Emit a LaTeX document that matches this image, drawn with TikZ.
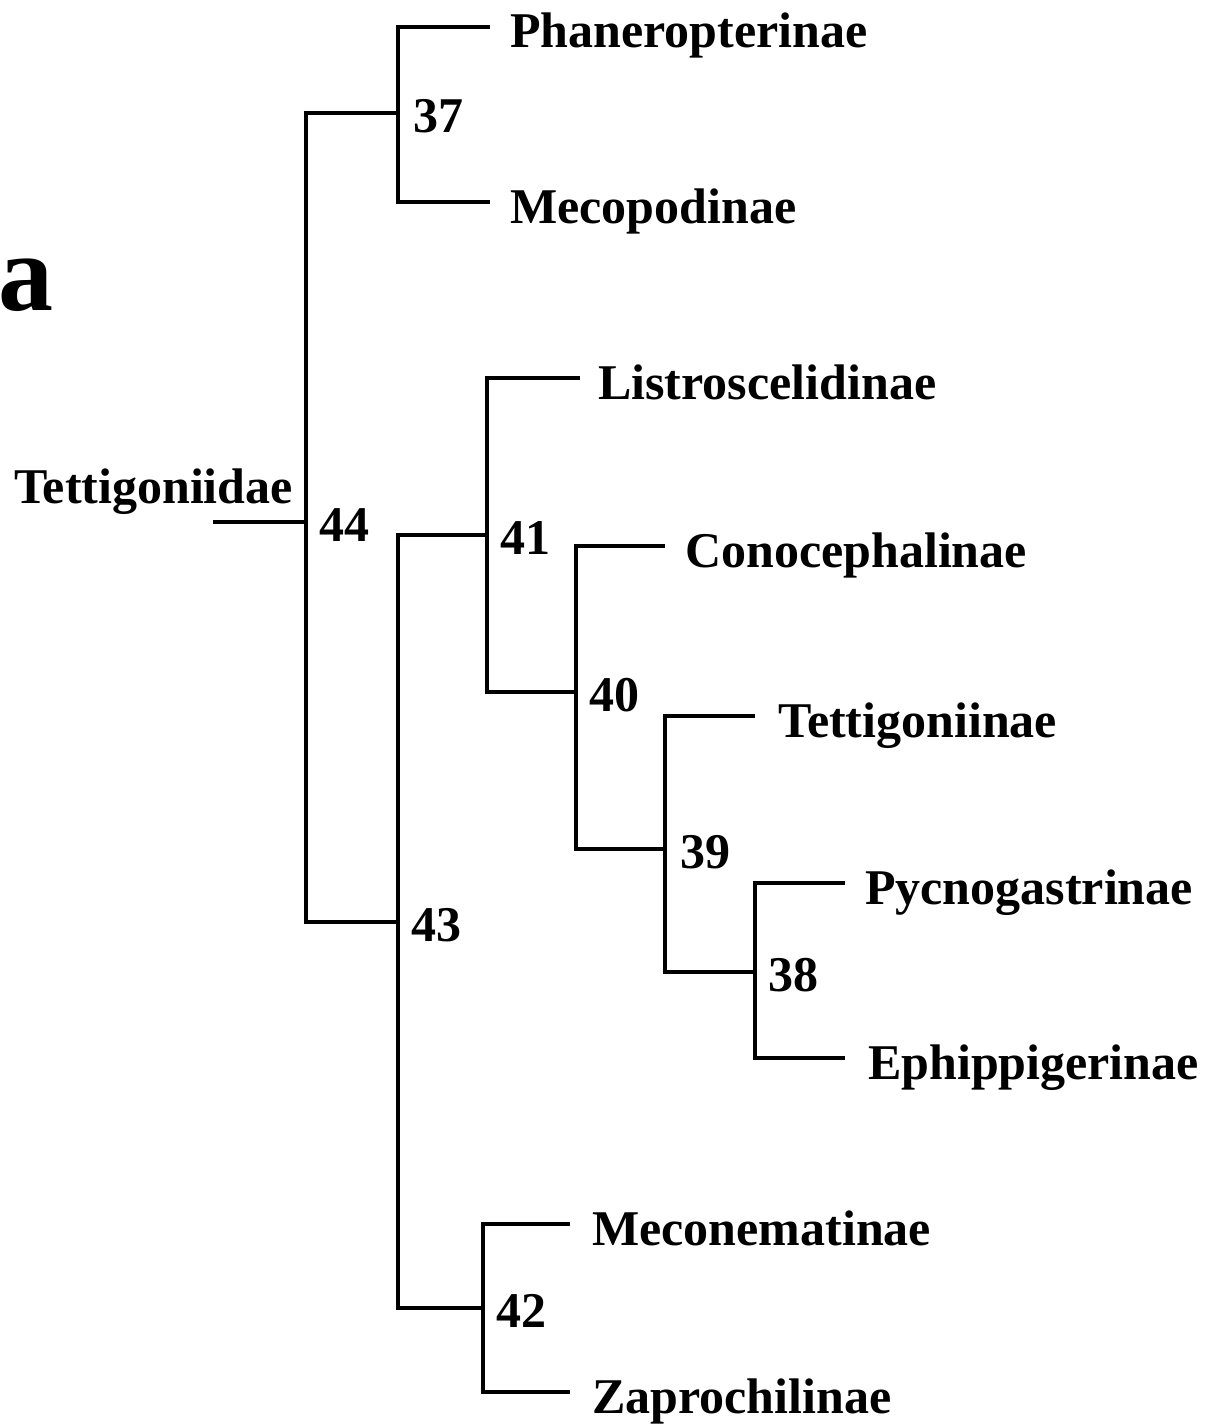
\documentclass[tikz,border=0pt]{standalone}
\usepackage{fontspec}
\setmainfont{Liberation Serif}
\begin{document}
\begin{tikzpicture}[x=1pt,y=-1pt,
  branch/.style={line width=3.3pt,line join=miter,line cap=butt},
  leaf/.style={anchor=base west,inner sep=0pt,font=\fontsize{50}{60}\selectfont\bfseries,xshift=20pt,yshift=-21pt},
  num/.style={anchor=base west,inner sep=0pt,font=\fontsize{50}{60}\selectfont\bfseries,xshift=13pt,yshift=-19pt}]
\useasboundingbox (0,0) rectangle (1211,1426);
% panel letter
\node[anchor=base west,inner sep=0pt,font=\fontsize{110}{130}\selectfont\bfseries] (panel) at (-2,310) {a};
% internal nodes
\coordinate (r0) at (213,522);
\coordinate (n44) at (306,522);
\coordinate (n37) at (398,113);
\coordinate (n43) at (398,922);
\coordinate (n41) at (487,535);
\coordinate (n40) at (576,692);
\coordinate (n39) at (665,849);
\coordinate (n38) at (755,972);
\coordinate (n42) at (483,1308);
% leaf tips
\coordinate (tPha) at (490,27);
\coordinate (tMec) at (490,202);
\coordinate (tLis) at (580,378);
\coordinate (tCon) at (665,546);
\coordinate (tTet) at (755,716);
\coordinate (tPyc) at (845,883);
\coordinate (tEph) at (845,1058);
\coordinate (tMcn) at (570,1224);
\coordinate (tZap) at (570,1392);
% leaf labels
\node[leaf] (Pha) at (tPha) {Phaneropterinae};
\node[leaf] (Mec) at (tMec) {Mecopodinae};
\node[leaf,xshift=-2pt] (Lis) at (tLis) {Listroscelidinae};
\node[leaf] (Con) at (tCon) {Conocephalinae};
\node[leaf,xshift=3pt] (Tet) at (tTet) {Tettigoniinae};
\node[leaf] (Pyc) at (tPyc) {Pycnogastrinae};
\node[leaf,xshift=3pt] (Eph) at (tEph) {Ephippigerinae};
\node[leaf,xshift=2pt] (Mcn) at (tMcn) {Meconematinae};
\node[leaf,xshift=2pt] (Zap) at (tZap) {Zaprochilinae};
\node[anchor=base east,inner sep=0pt,font=\fontsize{50}{60}\selectfont\bfseries] (Root) at (293,503) {Tettigoniidae};
% node numbers
\node[num] (l44) at (n44) {44};
\node[num,xshift=2pt] (l37) at (n37) {37};
\node[num] (l43) at (n43) {43};
\node[num] (l41) at (n41) {41};
\node[num] (l40) at (n40) {40};
\node[num,xshift=2pt] (l39) at (n39) {39};
\node[num] (l38) at (n38) {38};
\node[num] (l42) at (n42) {42};
% branches
\draw[branch] (r0) -- (n44);
\draw[branch] (n37) -- (n37 -| n44) -- (n43 -| n44) -- (n43);
\draw[branch] (tPha) -- (tPha -| n37) -- (tMec -| n37) -- (tMec);
\draw[branch] (n41) -- (n41 -| n43) -- (n42 -| n43) -- (n42);
\draw[branch] (tLis) -- (tLis -| n41) -- (n40 -| n41) -- (n40);
\draw[branch] (tCon) -- (tCon -| n40) -- (n39 -| n40) -- (n39);
\draw[branch] (tTet) -- (tTet -| n39) -- (n38 -| n39) -- (n38);
\draw[branch] (tPyc) -- (tPyc -| n38) -- (tEph -| n38) -- (tEph);
\draw[branch] (tMcn) -- (tMcn -| n42) -- (tZap -| n42) -- (tZap);
\end{tikzpicture}
\end{document}
